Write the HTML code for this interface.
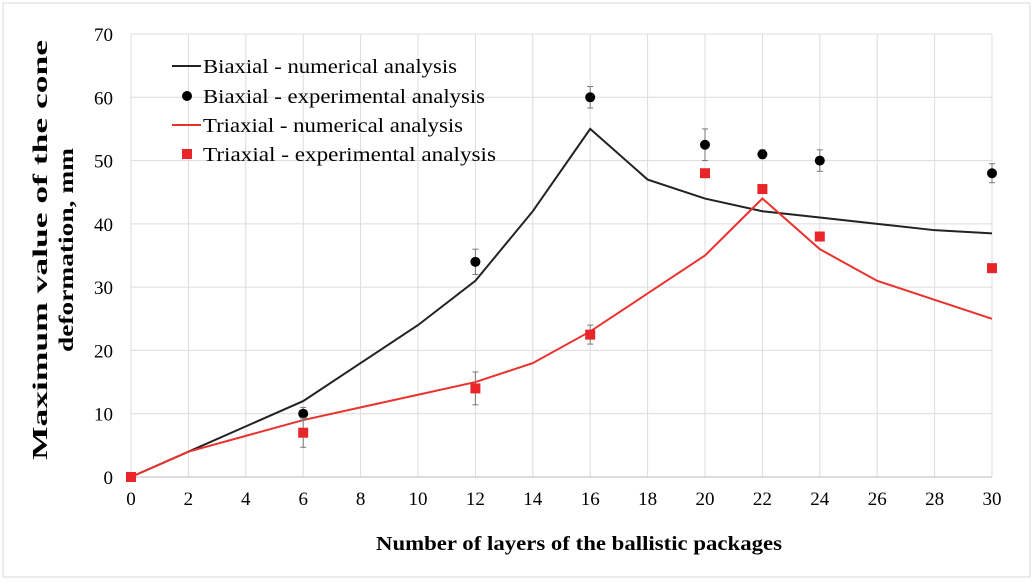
<!DOCTYPE html>
<html><head><meta charset="utf-8"><style>
body{margin:0;background:#fff;}
svg{display:block;font-family:"Liberation Serif",serif;}
</style></head><body>
<svg id="chart" width="1036" height="583" viewBox="0 0 1036 583">
<rect x="3" y="3" width="1027" height="574" fill="#fff" stroke="#d8d8d8"/>
<g id="grid"></g><g id="axes"></g><g id="series"></g>
<text x="376" y="550" textLength="406" lengthAdjust="spacingAndGlyphs" font-weight="bold" font-size="20">Number of layers of the ballistic packages</text>
<g transform="rotate(-90)" font-weight="bold" font-size="21">
<text x="-460" y="47" textLength="420" lengthAdjust="spacingAndGlyphs">Maximum value of the cone</text>
<text x="-352" y="73" textLength="204" lengthAdjust="spacingAndGlyphs">deformation, mm</text>
</g>
<g font-size="20">
<g><line x1="172" y1="66" x2="201" y2="66" stroke="#222" stroke-width="2"/><text x="203" y="73" textLength="254" lengthAdjust="spacingAndGlyphs">Biaxial - numerical analysis</text></g>
<g><circle cx="187" cy="96" r="5" fill="#000"/><text x="203" y="103" textLength="282" lengthAdjust="spacingAndGlyphs">Biaxial - experimental analysis</text></g>
<g><line x1="172" y1="125" x2="201" y2="125" stroke="#e8322e" stroke-width="2"/><text x="203" y="132" textLength="260" lengthAdjust="spacingAndGlyphs">Triaxial - numerical analysis</text></g>
<g><rect x="182" y="149" width="10" height="10" fill="#e8262a"/><text x="203" y="161" textLength="293" lengthAdjust="spacingAndGlyphs">Triaxial -  experimental analysis</text></g>
</g>
</svg>
<script>
const xTicks=[0,2,4,6,8,10,12,14,16,18,20,22,24,26,28,30];
const yTicks=[0,10,20,30,40,50,60,70];
const numX=[0,2,4,6,8,10,12,14,16,18,20,22,24,26,28,30];
const biaxNum=[0,4,8,12,18,24,31,42,55,47,44,42,41,40,39,38.5];
const triaxNum=[0,4,6.5,9,11,13,15,18,23,29,35,44,36,31,28,25];
const expX=[0,6,12,16,20,22,24,30];
const biaxExp=[0,10,34,60,52.5,51,50,48];
const biaxErr=[0,1,2,1.7,2.5,0.7,1.7,1.5];
const triaxExp=[0,7,14,22.5,48,45.5,38,33];
const triaxErr=[0,2.3,2.6,1.5,0.5,0.6,0.5,0.5];
const X=v=>131+v*(992-131)/30;
const Y=v=>477-v*(477-34)/70;
const NS="http://www.w3.org/2000/svg";
function mk(t,a,p){const e=document.createElementNS(NS,t);for(const k in a)e.setAttribute(k,a[k]);p.appendChild(e);return e;}
const grid=document.getElementById('grid'),axes=document.getElementById('axes'),ser=document.getElementById('series');
xTicks.forEach(t=>{
 const l=mk('line',{x1:X(t),x2:X(t),y1:Y(70),y2:Y(0),stroke:'#dcdcdc','stroke-width':1},grid);
 
 
 const tx=mk('text',{x:X(t),y:505,'text-anchor':'middle','font-size':19},axes);tx.textContent=t;
 
 
});
yTicks.forEach(t=>{
 const l=mk('line',{x1:X(0),x2:X(30),y1:Y(t),y2:Y(t),stroke:t===0?'#bbb':'#dcdcdc','stroke-width':1},grid);
 
 
 const tx=mk('text',{x:113,y:Y(t)+7,'text-anchor':'end','font-size':19},axes);tx.textContent=t;
 
 
});
function line(ys,c,name){
 const p=mk('polyline',{points:numX.map((x,i)=>X(x)+','+Y(ys[i])).join(' '),fill:'none',stroke:c,'stroke-width':2},ser);
 
 
}
line(biaxNum,'#222','biaxial-numerical-line');
line(triaxNum,'#e8322e','triaxial-numerical-line');
function err(x,v,e){
 if(!e)return;
 const g=mk('g',{stroke:'#777','stroke-width':1},ser);
 
 
 mk('line',{x1:X(x),x2:X(x),y1:Y(v+e),y2:Y(v-e)},g);
 mk('line',{x1:X(x)-3,x2:X(x)+3,y1:Y(v+e),y2:Y(v+e)},g);
 mk('line',{x1:X(x)-3,x2:X(x)+3,y1:Y(v-e),y2:Y(v-e)},g);
}
expX.forEach((x,i)=>{
 err(x,biaxExp[i],biaxErr[i]);
 const c=mk('circle',{cx:X(x),cy:Y(biaxExp[i]),r:5,fill:'#000'},ser);
 
 
});
expX.forEach((x,i)=>{
 err(x,triaxExp[i],triaxErr[i]);
 const r=mk('rect',{x:X(x)-5,y:Y(triaxExp[i])-5,width:10,height:10,fill:'#e8262a'},ser);
 
 
});
</script>
</body></html>
